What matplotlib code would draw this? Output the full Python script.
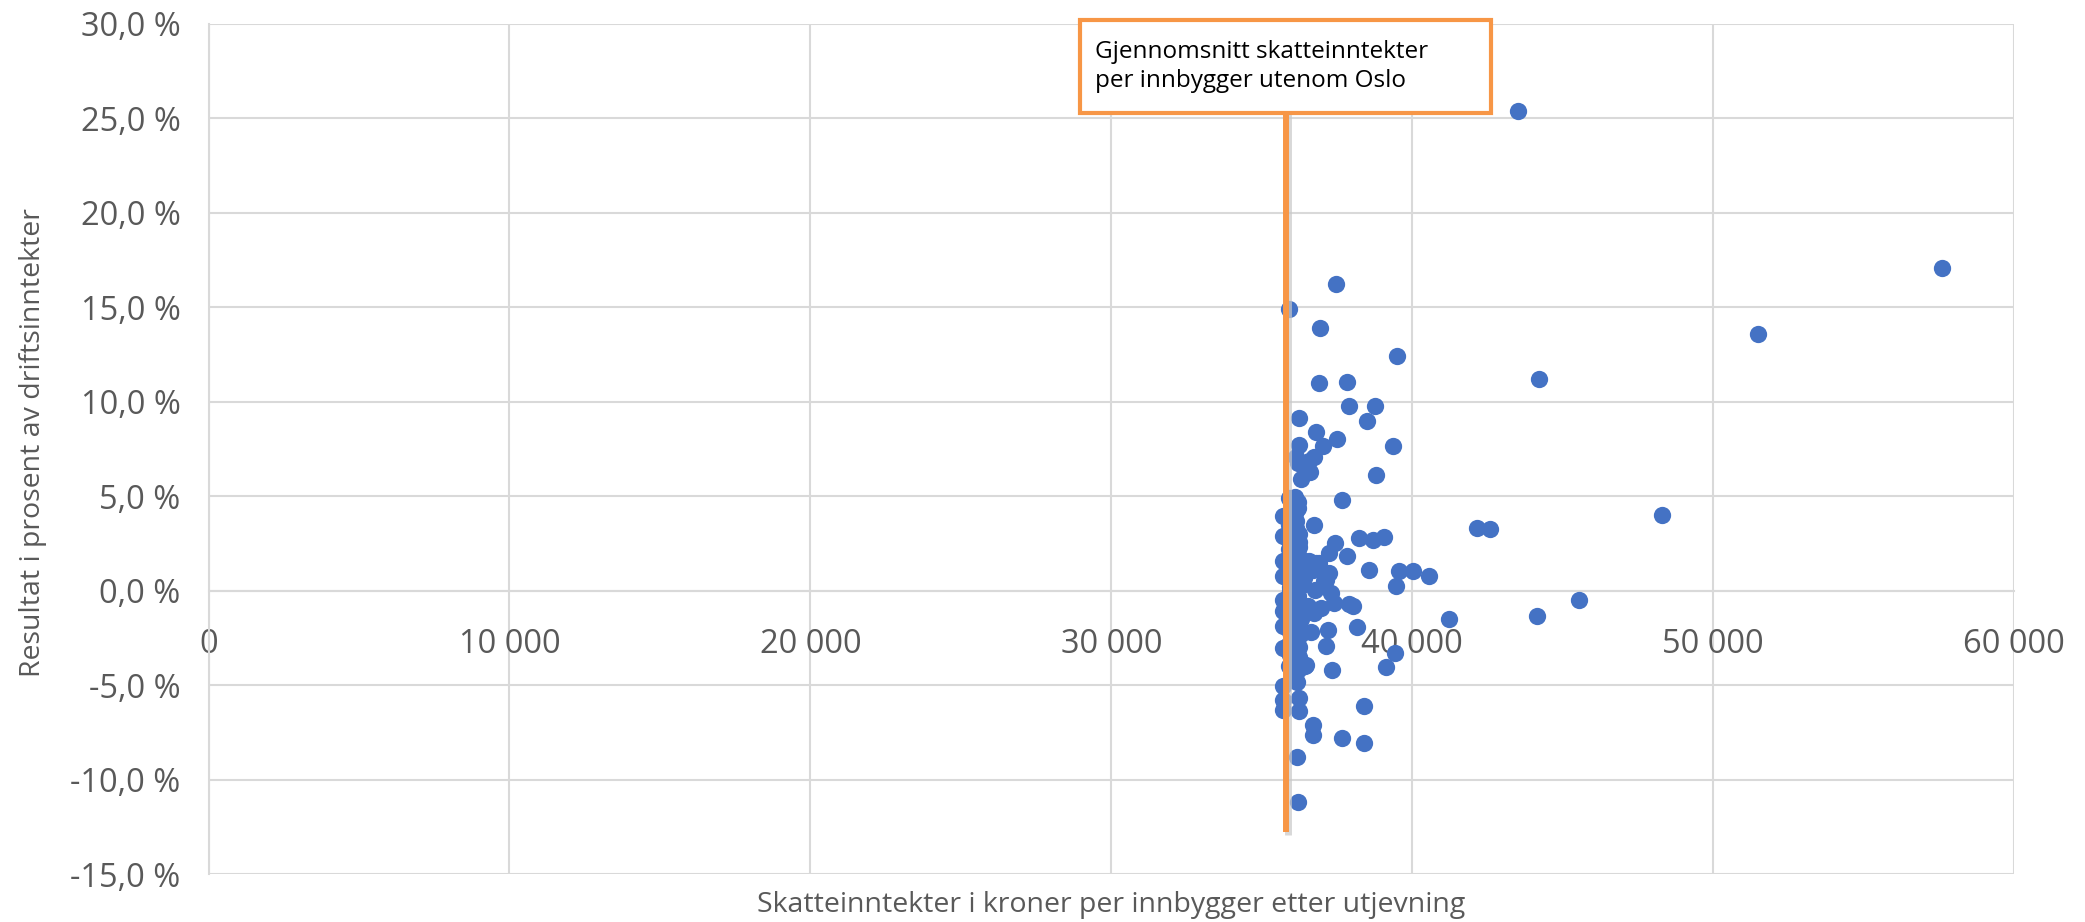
import matplotlib.pyplot as plt
from matplotlib.patches import Rectangle
from matplotlib.ticker import FuncFormatter, MultipleLocator

plt.rcParams['font.family'] = ['Open Sans', 'DejaVu Sans']

# skatteinntekter per innbygger (kr) og resultat i prosent av driftsinntekter
skatt = [
    # spredte kommuner
    43500, 57600, 51500, 48300, 45550, 44220, 44140, 42150, 42590, 41230,
    37460, 35890, 36930, 39500, 36900, 37830, 37900, 38750, 36250, 38500,
    36800, 37500, 36250, 37020, 39360, 36140, 36740, 36580, 36190, 36600,
    36300, 38780, 37680, 36740, 38240, 38680, 39060, 37440, 37240, 37830,
    38550, 39570, 40010, 40560, 39460, 38180, 37210, 36630, 37130, 39430,
    39130, 37330, 36450, 36160, 38400, 36250, 36250, 36690, 36690, 37680,
    38400, 36160, 36190, 37910, 38020, 37300, 37410, 36970, 36740, 36780,
    36560, 36910, 37240, 37130, 36410, 36520, 36470, 36800, 36690, 37080,
    # venstre for linja
    35690, 35690, 35690, 35690, 35690, 35690, 35690, 35690, 35690, 35690, 35690,
    # tett klynge rundt snittet
    35900, 36000, 36100, 36200, 35950, 36050, 36150, 35900, 36000, 36100,
    36250, 35950, 36050, 36150, 35900, 36000, 36100, 36300, 35950, 36050,
    36200, 35900, 36000, 36150, 36350, 35950, 36050, 36100, 35900, 36000,
    36200, 36400, 35950, 36100, 36250, 35900, 36000, 36150, 35950, 36050,
    36300, 35900, 36000, 36150, 35950, 36100, 36250, 35900, 36050, 36200,
    36000, 36050, 36000, 36100, 36200, 36250, 35950, 36100, 36000, 36150,
    36100, 36200, 36000, 36150, 36250, 36050, 36200, 36100, 36300, 36150,
    36000, 36250, 36100, 36200, 36050, 36300, 36150, 36000, 36200, 36100,
]
resultat = [
    25.4, 17.07, 13.6, 4.0, -0.5, 11.2, -1.36, 3.3, 3.28, -1.48,
    16.24, 14.9, 13.93, 12.43, 11.02, 11.04, 9.79, 9.79, 9.14, 8.96,
    8.4, 8.04, 7.72, 7.64, 7.65, 7.1, 7.1, 6.84, 6.75, 6.26,
    5.93, 6.1, 4.81, 3.46, 2.77, 2.71, 2.84, 2.52, 2.0, 1.85,
    1.11, 1.02, 1.02, 0.76, 0.23, -1.94, -2.06, -2.19, -2.95, -3.3,
    -4.02, -4.2, -3.97, -4.85, -6.08, -5.66, -6.38, -7.09, -7.62, -7.8,
    -8.06, -8.8, -11.18, -0.69, -0.83, -0.12, -0.65, -0.92, -1.18, 0.02,
    1.55, 1.46, 0.94, 0.58, 0.67, -0.83, -3.92, 1.46, 1.11, 0.49,
    3.93, 2.87, 1.55, 0.76, -0.48, -1.1, -1.89, -3.03, -5.06, -5.77, -6.3,
    4.9, 4.6, 4.8, 4.4, 4.1, 3.8, 4.2, 3.5, 3.2, 3.6,
    3.0, 2.8, 2.5, 2.9, 2.2, 1.9, 2.3, 1.7, 1.5, 1.2,
    1.4, 0.9, 0.6, 0.8, 0.3, 0.2, -0.1, 0.4, -0.4, -0.7,
    -0.5, -0.9, -1.0, -1.3, -1.1, -1.6, -1.9, -1.7, -2.2, -2.5,
    -2.3, -2.8, -3.1, -2.9, -3.4, -3.7, -3.5, -4.0, -4.3, -4.1,
    3.9, 2.0, -1.4, -3.2, 0.1, 2.6, 0.0, -2.6, 4.5, -0.2,
    4.95, 4.7, 4.3, 3.3, 2.3, 1.0, 0.5, -0.6, -1.5, -2.0,
    -2.7, -3.0, -3.9, -4.2, 2.7, 1.3, 3.7, 1.1, -0.3, 2.4,
]

snitt_skatt = 35800
linje_fra = -12.8
linje_til = 25.3
boks_tekst = "Gjennomsnitt skatteinntekter\nper innbygger utenom Oslo"

grey = '#595959'
grid = '#D9D9D9'
orange = '#F79646'

fig = plt.figure(figsize=(20.85, 9.22), dpi=100)
ax = fig.add_axes([0.100, 0.052, 0.866, 0.922])

ax.scatter(skatt, resultat, s=155, color='#4472C4', zorder=3, linewidths=0)

# snittlinje med skygge
ax.plot([snitt_skatt + 60, snitt_skatt + 60], [linje_fra - 0.15, linje_til],
        color='#c8c8c8', lw=5, zorder=3.5, solid_capstyle='butt', alpha=0.7)
ax.plot([snitt_skatt, snitt_skatt], [linje_fra, linje_til],
        color=orange, lw=4.3, zorder=4, solid_capstyle='butt')

# tekstboks
ax.add_patch(Rectangle((28950, 25.3), 13680, 4.9, facecolor='white',
                       edgecolor=orange, lw=3, zorder=5, clip_on=False))
ax.text(29450, 27.75, boks_tekst, fontsize=17.5, color='black', va='center',
        ha='left', zorder=6, linespacing=1.3)

ax.set_xlim(0, 60000)
ax.set_ylim(-15, 30)
ax.xaxis.set_major_locator(MultipleLocator(10000))
ax.yaxis.set_major_locator(MultipleLocator(5))
ax.xaxis.set_major_formatter(FuncFormatter(lambda v, p: f"{int(v):,}".replace(",", " ")))
ax.yaxis.set_major_formatter(FuncFormatter(lambda v, p: f"{v:.1f}".replace(".", ",") + " %"))

ax.grid(True, color=grid, lw=1.5, zorder=0)
ax.set_axisbelow(True)
for s in ['top', 'right']:
    ax.spines[s].set_visible(False)
ax.spines['bottom'].set_position(('data', 0))
ax.spines['bottom'].set_color(grid)
ax.spines['bottom'].set_linewidth(1.5)
ax.spines['left'].set_color(grid)
ax.spines['left'].set_linewidth(1.5)

ax.tick_params(axis='both', length=0, labelsize=23.5, labelcolor=grey)
ax.tick_params(axis='x', pad=27)
ax.tick_params(axis='y', pad=20)

fig.text(0.016, 0.52, "Resultat i prosent av driftsinntekter", rotation=90,
         ha='center', va='center', fontsize=20.5, color=grey)
fig.text(0.533, 0.018, "Skatteinntekter i kroner per innbygger etter utjevning",
         ha='center', va='center', fontsize=20.5, color=grey)

fig.savefig('out.png', dpi=100)
